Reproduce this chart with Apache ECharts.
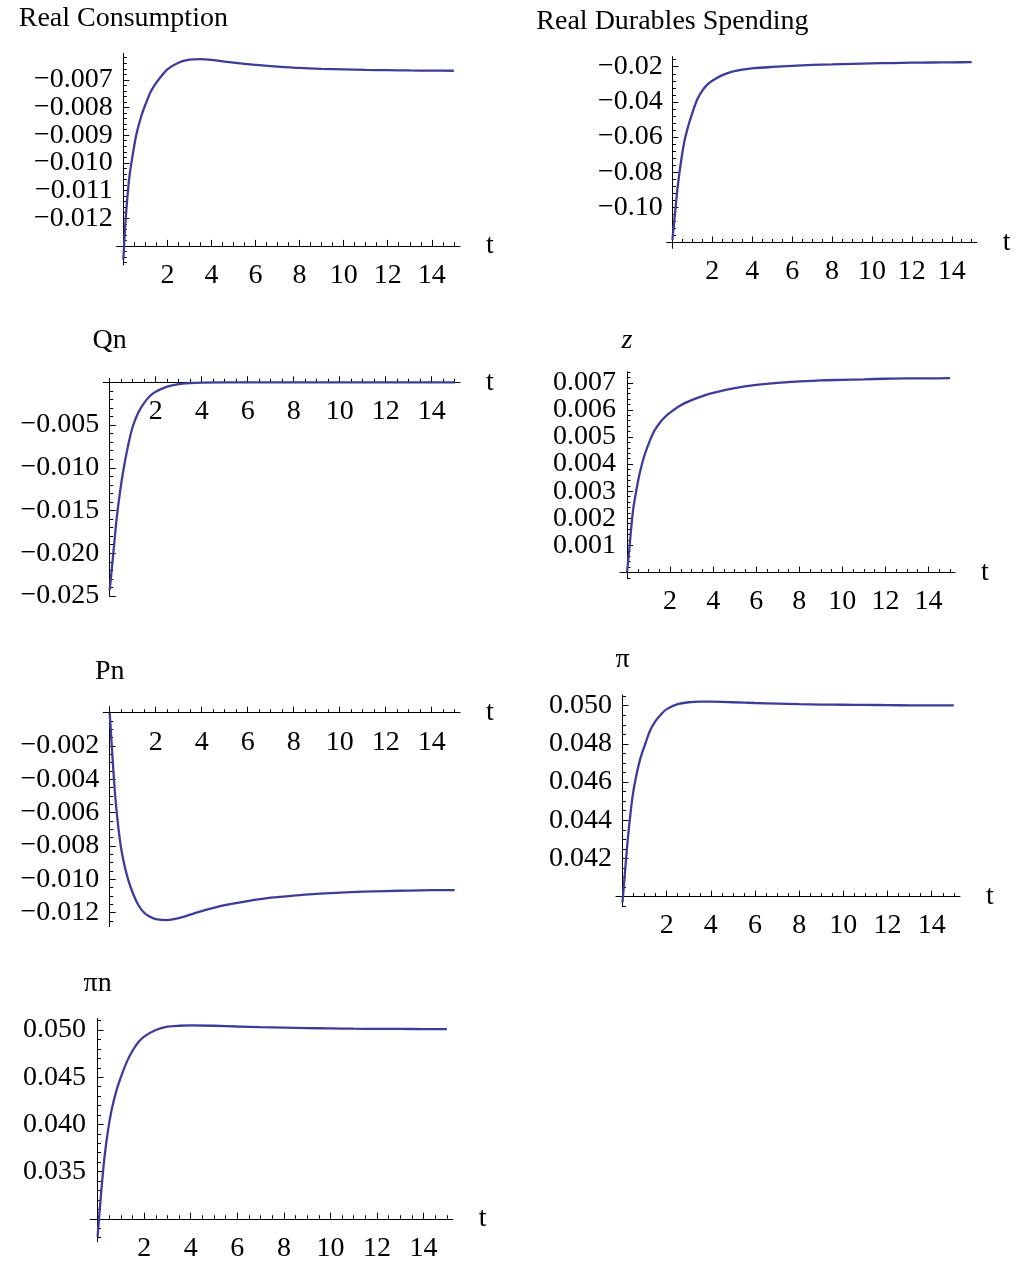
<!DOCTYPE html>
<html><head><meta charset="utf-8">
<script src="https://cdn.jsdelivr.net/npm/echarts@6/dist/echarts.min.js"></script>
<style>html,body{margin:0;padding:0;background:#fff}#c{width:1016px;height:1264px}</style>
</head><body><div id="c"></div>
<script>
// ---- data ----
const tValues = [0, 0.1, 0.2, 0.3, 0.45, 0.6, 0.8, 1.0, 1.25, 1.5, 1.75, 2, 2.5, 3, 3.5, 4, 5, 6, 7, 8, 9, 10, 11, 12, 13, 14, 15];
const realConsumption = [-0.0135, -0.0121, -0.0111, -0.01035, -0.0096, -0.00895, -0.00835, -0.0079, -0.00742, -0.0071, -0.00684, -0.00662, -0.00638, -0.00627, -0.00625, -0.00628, -0.00638, -0.00646, -0.00652, -0.00657, -0.0066, -0.00662, -0.00664, -0.00665, -0.00666, -0.006665, -0.00667];
const realDurables = [-0.1185, -0.107, -0.0952, -0.085, -0.0725, -0.0625, -0.0535, -0.0462, -0.0385, -0.0336, -0.0302, -0.0280, -0.0248, -0.0228, -0.0217, -0.0209, -0.0201, -0.0195, -0.019, -0.0187, -0.0184, -0.0181, -0.0179, -0.0177, -0.0176, -0.0175, -0.0174];
const qn = [-0.0243, -0.0216, -0.0188, -0.0160, -0.0128, -0.0102, -0.0074, -0.0052, -0.0035, -0.0024, -0.0016, -0.0011, -0.0005, -0.0002, -0.00008, -0.00003, 0, 0, 0, 0, 0, 0, 0, 0, 0, 0, 0];
const zSeries = [0, 0.0008, 0.00168, 0.0024, 0.0031, 0.0037, 0.0043, 0.00474, 0.0052, 0.0055, 0.00573, 0.0059, 0.00617, 0.00636, 0.00651, 0.00663, 0.0068, 0.00692, 0.007, 0.00705, 0.00709, 0.00711, 0.00713, 0.00715, 0.00716, 0.00716, 0.00717];
const pn = [0, -0.0022, -0.0043, -0.0059, -0.0077, -0.0089, -0.0100, -0.0108, -0.01155, -0.0120, -0.01225, -0.01238, -0.01244, -0.01232, -0.01212, -0.0119, -0.01155, -0.0113, -0.0111, -0.01097, -0.01087, -0.0108, -0.01074, -0.0107, -0.01067, -0.01065, -0.01064];
const piSeries = [0.0397, 0.0411, 0.0425, 0.0437, 0.0452, 0.0462, 0.0472, 0.0479, 0.0487, 0.0492, 0.04955, 0.04982, 0.05008, 0.05018, 0.05021, 0.05021, 0.05018, 0.05014, 0.05011, 0.05008, 0.05006, 0.05005, 0.05004, 0.05003, 0.05002, 0.05002, 0.05002];
const piN = [0.0281, 0.0312, 0.0341, 0.0366, 0.0394, 0.0415, 0.0435, 0.0450, 0.0466, 0.0478, 0.0487, 0.0493, 0.0500, 0.05035, 0.05045, 0.05048, 0.05045, 0.05037, 0.0503, 0.05025, 0.0502, 0.05017, 0.05014, 0.05012, 0.05011, 0.0501, 0.0501];

const xMajorTicks = [2, 4, 6, 8, 10, 12, 14];
const xMinorTicks = [0.5, 1, 1.5, 2, 2.5, 3, 3.5, 4, 4.5, 5, 5.5, 6, 6.5, 7, 7.5, 8, 8.5, 9, 9.5, 10, 10.5, 11, 11.5, 12, 12.5, 13, 13.5, 14, 14.5, 15];
const yTicksRealCons = [-0.012, -0.011, -0.010, -0.009, -0.008, -0.007];
const yTicksDurables = [-0.10, -0.08, -0.06, -0.04, -0.02];
const yTicksQn = [-0.025, -0.020, -0.015, -0.010, -0.005];
const yTicksZ = [0.001, 0.002, 0.003, 0.004, 0.005, 0.006, 0.007];
const yTicksPn = [-0.012, -0.010, -0.008, -0.006, -0.004, -0.002];
const yTicksPi = [0.042, 0.044, 0.046, 0.048, 0.050];
const yTicksPiN = [0.035, 0.040, 0.045, 0.050];

// ---- layout / panel config ----
const panels = [
  {title: 'Real Consumption', data: realConsumption, yTicks: yTicksRealCons, minor: 0.0002, dec: 3, cross: -0.013,
   left: 116.7, top: 53.3, width: 343.3, height: 211.7, xMin: -0.30, xMax: 15.28, yMin: -0.01369, yMax: -0.00604, nameGap: 20.5},
  {title: 'Real Durables Spending', data: realDurables, yTicks: yTicksDurables, minor: 0.004, dec: 2, cross: -0.12,
   left: 666.7, top: 56.7, width: 310, height: 191.6, xMin: -0.286, xMax: 15.25, yMin: -0.1233, yMax: -0.0143, nameGap: 21},
  {title: 'Qn', data: qn, yTicks: yTicksQn, minor: 0.001, dec: 3, cross: 0,
   left: 103.3, top: 378.3, width: 356.7, height: 217.7, xMin: -0.278, xMax: 15.23, yMin: -0.0250, yMax: 0.00047, nameGap: 24},
  {title: 'z', italic: true, data: zSeries, yTicks: yTicksZ, minor: 0.0002, dec: 3, cross: 0,
   left: 620, top: 371.7, width: 335, height: 206.6, xMin: -0.325, xMax: 15.23, yMin: -0.000214, yMax: 0.00741, nameGap: 17},
  {title: 'Pn', data: pn, yTicks: yTicksPn, minor: 0.0005, dec: 3, cross: 0,
   left: 103.3, top: 706.7, width: 356.7, height: 220, xMin: -0.278, xMax: 15.23, yMin: -0.01284, yMax: 0.00036, nameGap: 21},
  {title: 'π', data: piSeries, yTicks: yTicksPi, minor: 0.0005, dec: 3, cross: 0.040,
   left: 616, top: 695, width: 344, height: 211.7, xMin: -0.294, xMax: 15.28, yMin: 0.03947, yMax: 0.05056, nameGap: 21},
  {title: 'πn', data: piN, yTicks: yTicksPiN, minor: 0.001, dec: 3, cross: 0.030,
   left: 90, top: 1018.3, width: 362.7, height: 223.4, xMin: -0.326, xMax: 15.25, yMin: 0.02757, yMax: 0.05124, nameGap: 21}
];

const FONT = 'Liberation Serif';
const FS = 28;
const LINE = '#3d3d99';

function stepValues(min, max, step) {
  const out = [];
  const a = Math.ceil(min / step - 1e-9), b = Math.floor(max / step + 1e-9);
  for (let k = a; k <= b; k++) out.push(+(k * step).toFixed(6));
  return out;
}
function fmt(dec) {
  return v => (v < 0 ? '\u2212' : '') + Math.abs(v).toFixed(dec);
}

const grids = [], xAxes = [], yAxes = [], series = [];
panels.forEach((p, i) => {
  grids.push({left: p.left, top: p.top, width: p.width, height: p.height, containLabel: false, outerBoundsMode: 'none'});
  const off = -((p.cross - p.yMin) / (p.yMax - p.yMin)) * p.height;
  const xBase = {
    type: 'value', gridIndex: i, min: p.xMin, max: p.xMax, position: 'bottom', offset: off,
    splitLine: {show: false}
  };
  xAxes.push(Object.assign({}, xBase, {
    axisLine: {show: true, onZero: false, lineStyle: {color: '#000', width: 1}},
    axisTick: {show: true, inside: true, length: 6, customValues: xMajorTicks, lineStyle: {color: '#000', width: 1}},
    axisLabel: {show: true, customValues: xMajorTicks, margin: 15.5, showMinLabel: true, showMaxLabel: true, hideOverlap: false,
      color: '#000', fontFamily: FONT, fontSize: FS},
    name: 't', nameLocation: 'end', nameGap: 26,
    nameTextStyle: {color: '#000', fontFamily: FONT, fontSize: FS, verticalAlign: 'middle'}
  }));
  xAxes.push(Object.assign({}, xBase, {
    axisLine: {show: false, onZero: false},
    axisTick: {show: true, inside: true, length: 3.5, customValues: xMinorTicks, lineStyle: {color: '#000', width: 1}},
    axisLabel: {show: false}
  }));
  // labels split over two overlaid y axes so neighbouring labels never collide in the auto-hide check
  const labelsA = p.yTicks.filter((_, k) => k % 2 === 0);
  const labelsB = p.yTicks.filter((_, k) => k % 2 === 1);
  const yLabelStyle = {show: true, margin: 4, formatter: fmt(p.dec), showMinLabel: true, showMaxLabel: true, hideOverlap: false,
    color: '#000', fontFamily: FONT, fontSize: FS};
  const yBase = {
    type: 'value', gridIndex: i, min: p.yMin, max: p.yMax, position: 'left', splitLine: {show: false}
  };
  yAxes.push(Object.assign({}, yBase, {
    axisLine: {show: true, onZero: true, lineStyle: {color: '#000', width: 1}},
    axisTick: {show: true, inside: true, length: 6, customValues: p.yTicks, lineStyle: {color: '#000', width: 1}},
    axisLabel: Object.assign({customValues: labelsA}, yLabelStyle),
    name: p.title, nameLocation: 'end', nameGap: p.nameGap, nameMoveOverlap: false,
    nameTextStyle: {color: '#000', fontFamily: FONT, fontSize: FS, fontStyle: p.italic ? 'italic' : 'normal', align: 'center', verticalAlign: 'bottom'}
  }));
  yAxes.push(Object.assign({}, yBase, {
    axisLine: {show: false, onZero: true},
    axisTick: {show: true, inside: true, length: 3.5, customValues: stepValues(p.yMin, p.yMax, p.minor), lineStyle: {color: '#000', width: 1}},
    axisLabel: labelsB.length ? Object.assign({customValues: labelsB}, yLabelStyle) : {show: false}
  }));
  series.push({
    type: 'line', xAxisIndex: 2 * i, yAxisIndex: 2 * i,
    data: tValues.map((t, k) => [t, p.data[k]]),
    showSymbol: false, symbol: 'none', smooth: 0.3,
    lineStyle: {color: LINE, width: 2.3}, z: 5
  });
});

const chart = echarts.init(document.getElementById('c'), null, {renderer: 'canvas', width: 1016, height: 1264});
chart.setOption({
  animation: false,
  backgroundColor: '#fff',
  grid: grids, xAxis: xAxes, yAxis: yAxes, series: series
});
</script></body></html>
